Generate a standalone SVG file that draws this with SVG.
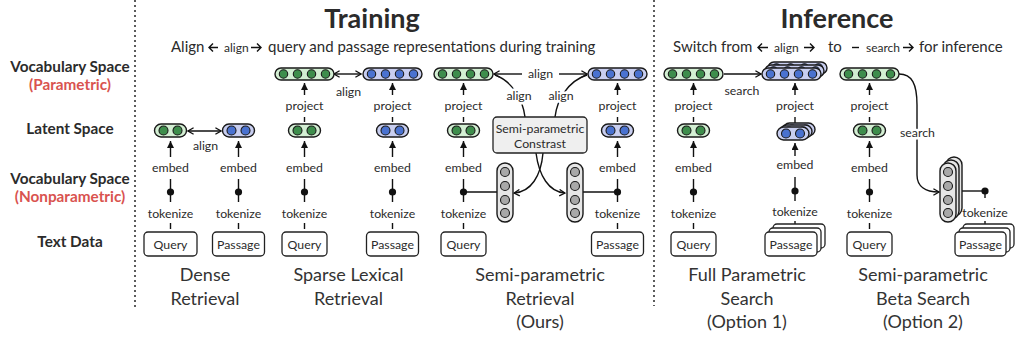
<svg xmlns="http://www.w3.org/2000/svg" xmlns:xlink="http://www.w3.org/1999/xlink" width="1017" height="339" viewBox="0 0 1017 339">
<style>
text{font-family:Lato,"Noto Sans","Liberation Sans",sans-serif;fill:#2b2b2b}
.title{font-size:27px;font-weight:bold;text-anchor:middle}
.sub{font-size:15px}
.sm{font-size:12px}
.lab{font-size:12.3px;text-anchor:middle}
.side{font-size:15.3px;font-weight:bold;text-anchor:middle}
.red{fill:#d9534f}
.cap{font-size:18px;text-anchor:middle;fill:#333}
.halo{paint-order:stroke;stroke:#fff;stroke-width:5px;stroke-linejoin:round}
.ln{stroke:#111;stroke-width:1.4;fill:none}
.box{fill:#fff;stroke:#222;stroke-width:1.3}
.gp{fill:#d3efd3;stroke:#1a1a1a;stroke-width:1.4}
.gc{fill:#3e8e4c;stroke:#1a1a1a;stroke-width:1.1}
.bp{fill:#c8cef0;stroke:#1a1a1a;stroke-width:1.4}
.bc{fill:#4a72d0;stroke:#1a1a1a;stroke-width:1.1}
.cp{fill:#e6e6e6;stroke:#1a1a1a;stroke-width:1.4}
.cc{fill:#a8a8a8;stroke:#1a1a1a;stroke-width:1.1}
.dot{fill:#111}
.sep{stroke:#333;stroke-width:1.6;stroke-dasharray:2 3}
</style>
<defs>
<marker id="chev" viewBox="0 0 10 10" refX="9" refY="5" markerWidth="8" markerHeight="8" markerUnits="userSpaceOnUse" orient="auto-start-reverse">
<path d="M2,1 L9,5 L2,9" fill="none" stroke="#111" stroke-width="1.6"/>
</marker>
<marker id="tri" viewBox="0 0 10 10" refX="10" refY="5" markerWidth="7" markerHeight="7" markerUnits="userSpaceOnUse" orient="auto">
<path d="M0,0 L10,5 L0,10 z" fill="#111"/>
</marker>
<g id="vg"><rect width="59" height="12" rx="6" class="gp"/><circle cx="8.5" cy="6" r="4.2" class="gc"/><circle cx="22.5" cy="6" r="4.2" class="gc"/><circle cx="36.5" cy="6" r="4.2" class="gc"/><circle cx="50.5" cy="6" r="4.2" class="gc"/></g>
<g id="vb"><rect width="59" height="12" rx="6" class="bp"/><circle cx="8.5" cy="6" r="4.2" class="bc"/><circle cx="22.5" cy="6" r="4.2" class="bc"/><circle cx="36.5" cy="6" r="4.2" class="bc"/><circle cx="50.5" cy="6" r="4.2" class="bc"/></g>
<g id="lg"><rect width="32" height="13" rx="6.5" class="gp"/><circle cx="9" cy="6.5" r="4.5" class="gc"/><circle cx="23" cy="6.5" r="4.5" class="gc"/></g>
<g id="lb"><rect width="32" height="13" rx="6.5" class="bp"/><circle cx="9" cy="6.5" r="4.5" class="bc"/><circle cx="23" cy="6.5" r="4.5" class="bc"/></g>
<g id="col"><rect width="16" height="59" rx="8" class="cp"/><circle cx="8" cy="9" r="4.5" class="cc"/><circle cx="8" cy="23" r="4.5" class="cc"/><circle cx="8" cy="37" r="4.5" class="cc"/><circle cx="8" cy="50" r="4.5" class="cc"/></g>
</defs>
<rect width="1017" height="339" fill="#fff"/>

<g id="separators">
<line x1="135" y1="0" x2="135" y2="310" class="sep"/>
<line x1="654" y1="0" x2="654" y2="306" class="sep"/>
</g>

<g id="row-labels">
<text x="70" y="72" class="side">Vocabulary Space</text>
<text x="70" y="90" class="side red">(Parametric)</text>
<text x="70" y="134" class="side">Latent Space</text>
<text x="70" y="184" class="side">Vocabulary Space</text>
<text x="70" y="202" class="side red">(Nonparametric)</text>
<text x="70" y="247" class="side">Text Data</text>
</g>

<g id="headers">
<text x="372" y="28" class="title">Training</text>
<text x="837" y="28" class="title">Inference</text>
<text x="171" y="52" class="sub">Align</text>
<text x="224" y="52" class="sm">align</text>
<text x="268" y="52" class="sub">query and passage representations during training</text>
<text x="673" y="52" class="sub">Switch from</text>
<text x="774" y="52" class="sm">align</text>
<text x="828" y="52" class="sub">to</text>
<text x="866" y="52" class="sm">search</text>
<text x="919" y="52" class="sub">for inference</text>
<path d="M218,47.5 H209 M213,43.5 L209,47.5 L213,51.5" class="ln" stroke-width="1.6"/>
<path d="M251,47.5 H261 M257,43.5 L261,47.5 L257,51.5" class="ln" stroke-width="1.6"/>
<path d="M768,47.5 H758 M762,43.5 L758,47.5 L762,51.5" class="ln" stroke-width="1.6"/>
<path d="M804,47.5 H814 M810,43.5 L814,47.5 L810,51.5" class="ln" stroke-width="1.6"/>
<path d="M852,47.5 H859" class="ln" stroke-width="1.6"/>
<path d="M903,47.5 H913 M909,43.5 L913,47.5 L909,51.5" class="ln" stroke-width="1.6"/>
</g>

<g id="captions">
<text x="205" y="281" class="cap">Dense</text>
<text x="205" y="305" class="cap">Retrieval</text>
<text x="348.5" y="281" class="cap">Sparse Lexical</text>
<text x="348.5" y="305" class="cap">Retrieval</text>
<text x="540" y="281" class="cap">Semi-parametric</text>
<text x="540" y="305" class="cap">Retrieval</text>
<text x="540" y="328" class="cap">(Ours)</text>
<text x="747" y="281" class="cap">Full Parametric</text>
<text x="747" y="305" class="cap">Search</text>
<text x="747" y="328" class="cap">(Option 1)</text>
<text x="923" y="281" class="cap">Semi-parametric</text>
<text x="923" y="305" class="cap">Beta Search</text>
<text x="923" y="328" class="cap">(Option 2)</text>
</g>

<g id="connectors">
<line x1="170.5" y1="157" x2="170.5" y2="141" class="ln" marker-end="url(#tri)"/>
<line x1="238.5" y1="157" x2="238.5" y2="141" class="ln" marker-end="url(#tri)"/>
<line x1="188" y1="131" x2="221" y2="131" class="ln" marker-start="url(#chev)" marker-end="url(#chev)"/>
<line x1="304.5" y1="95" x2="304.5" y2="83" class="ln" marker-end="url(#tri)"/>
<line x1="392.5" y1="95" x2="392.5" y2="83" class="ln" marker-end="url(#tri)"/>
<line x1="304.5" y1="157" x2="304.5" y2="141" class="ln" marker-end="url(#tri)"/>
<line x1="392.5" y1="157" x2="392.5" y2="141" class="ln" marker-end="url(#tri)"/>
<line x1="334" y1="74" x2="361" y2="74" class="ln" marker-start="url(#chev)" marker-end="url(#chev)"/>
<line x1="463.5" y1="95" x2="463.5" y2="83" class="ln" marker-end="url(#tri)"/>
<line x1="617.5" y1="95" x2="617.5" y2="83" class="ln" marker-end="url(#tri)"/>
<line x1="463.5" y1="157" x2="463.5" y2="141" class="ln" marker-end="url(#tri)"/>
<line x1="617.5" y1="157" x2="617.5" y2="141" class="ln" marker-end="url(#tri)"/>
<line x1="522" y1="74" x2="494" y2="74" class="ln" marker-end="url(#chev)"/>
<line x1="559" y1="74" x2="587" y2="74" class="ln" marker-end="url(#chev)"/>
<path d="M525,117 C523,100 512,81 495,75" class="ln"/>
<path d="M555,117 C557,100 568,81 587,75" class="ln"/>
<path d="M543,153 C541,176 531,192 514,193" class="ln" marker-end="url(#chev)"/>
<path d="M536,153 C539,176 549,192 565,193" class="ln" marker-end="url(#chev)"/>
<line x1="463.5" y1="192" x2="497" y2="192" class="ln"/>
<line x1="583" y1="192" x2="617.5" y2="192" class="ln"/>
<line x1="693.5" y1="95" x2="693.5" y2="83" class="ln" marker-end="url(#tri)"/>
<line x1="795" y1="95" x2="795" y2="83" class="ln" marker-end="url(#tri)"/>
<line x1="693.5" y1="157" x2="693.5" y2="141" class="ln" marker-end="url(#tri)"/>
<line x1="795" y1="156" x2="795" y2="143" class="ln" marker-end="url(#tri)"/>
<line x1="724" y1="74" x2="761" y2="74" class="ln" marker-end="url(#chev)"/>
<line x1="869.5" y1="95" x2="869.5" y2="83" class="ln" marker-end="url(#tri)"/>
<line x1="869.5" y1="157" x2="869.5" y2="141" class="ln" marker-end="url(#tri)"/>
<path d="M899,74 C912,74 917,84 917,105 L917,175 C917,186 925,192 939,192" class="ln" marker-end="url(#chev)"/>
<line x1="955" y1="191" x2="985" y2="191" class="ln"/>
<path d="M304.5,117 V122 M392.5,117 V122 M463.5,117 V122 M617.5,117 V122 M693.5,117 V122 M795,117 V124 M869.5,117 V122" class="ln"/>
<path d="M170.5,179 V202 M238.5,179 V202 M304.5,179 V202 M392.5,179 V202 M463.5,179 V202 M617.5,179 V202 M693.5,179 V202 M795,177 V201 M869.5,179 V202 M985,191 V198" class="ln"/>
<path d="M170.5,223 V229 M238.5,223 V229 M304.5,223 V229 M392.5,223 V229 M463.5,223 V229 M617.5,223 V229 M693.5,223 V229 M795,221 V227 M869.5,223 V229 M985,221 V227" class="ln"/>
<g class="dot">
<circle cx="170.5" cy="192" r="3.6"/><circle cx="238.5" cy="192" r="3.6"/>
<circle cx="304.5" cy="192" r="3.6"/><circle cx="392.5" cy="192" r="3.6"/>
<circle cx="463.5" cy="192" r="3.6"/><circle cx="617.5" cy="192" r="3.6"/>
<circle cx="693.5" cy="192" r="3.6"/><circle cx="795" cy="191" r="3.6"/>
<circle cx="869.5" cy="192" r="3.6"/><circle cx="985" cy="191" r="3.6"/>
</g>
</g>

<g id="edge-labels">
<text x="205.5" y="150" class="lab">align</text>
<text x="348.5" y="96" class="lab">align</text>
<text x="540.5" y="78" class="lab">align</text>
<text x="519" y="100" class="lab halo">align</text>
<text x="561" y="100" class="lab halo">align</text>
<text x="742" y="95" class="lab">search</text>
<text x="917.5" y="137" class="lab halo">search</text>
</g>

<g id="step-labels">
<text x="170.5" y="172" class="lab">embed</text><text x="238.5" y="172" class="lab">embed</text>
<text x="170.5" y="218" class="lab">tokenize</text><text x="238.5" y="218" class="lab">tokenize</text>
<text x="304.5" y="110" class="lab">project</text><text x="392.5" y="110" class="lab">project</text>
<text x="304.5" y="172" class="lab">embed</text><text x="392.5" y="172" class="lab">embed</text>
<text x="304.5" y="218" class="lab">tokenize</text><text x="392.5" y="218" class="lab">tokenize</text>
<text x="463.5" y="110" class="lab">project</text><text x="617.5" y="110" class="lab">project</text>
<text x="463.5" y="172" class="lab">embed</text><text x="617.5" y="172" class="lab">embed</text>
<text x="463.5" y="218" class="lab">tokenize</text><text x="617.5" y="218" class="lab">tokenize</text>
<text x="693.5" y="110" class="lab">project</text><text x="795" y="110" class="lab">project</text>
<text x="693.5" y="172" class="lab">embed</text><text x="795" y="169" class="lab">embed</text>
<text x="693.5" y="218" class="lab">tokenize</text><text x="795" y="216" class="lab">tokenize</text>
<text x="869.5" y="110" class="lab">project</text>
<text x="869.5" y="172" class="lab">embed</text>
<text x="869.5" y="218" class="lab">tokenize</text>
<text x="985" y="217" class="lab">tokenize</text>
</g>

<g id="dense-query"><rect x="144" y="232" width="53" height="24" rx="4" class="box"/><text x="170.5" y="249" class="lab" font-size="12.8">Query</text></g>
<g id="dense-passage"><rect x="212.5" y="232" width="52" height="24" rx="4" class="box"/><text x="238.5" y="249" class="lab" font-size="12.8">Passage</text></g>
<g id="dense-q-latent"><use xlink:href="#lg" x="154.5" y="124"/></g>
<g id="dense-p-latent"><use xlink:href="#lb" x="222.5" y="124"/></g>

<g id="sparse-query"><rect x="282" y="232" width="45" height="24" rx="4" class="box"/><text x="304.5" y="249" class="lab" font-size="12.8">Query</text></g>
<g id="sparse-passage"><rect x="366.5" y="232" width="52" height="24" rx="4" class="box"/><text x="392.5" y="249" class="lab" font-size="12.8">Passage</text></g>
<g id="sparse-q-latent"><use xlink:href="#lg" x="288.5" y="124"/></g>
<g id="sparse-p-latent"><use xlink:href="#lb" x="376.5" y="124"/></g>
<g id="sparse-q-vocab"><use xlink:href="#vg" x="275" y="68"/></g>
<g id="sparse-p-vocab"><use xlink:href="#vb" x="363" y="68"/></g>

<g id="semi-query"><rect x="441" y="232" width="45" height="24" rx="4" class="box"/><text x="463.5" y="249" class="lab" font-size="12.8">Query</text></g>
<g id="semi-passage"><rect x="591.5" y="232" width="52" height="24" rx="4" class="box"/><text x="617.5" y="249" class="lab" font-size="12.8">Passage</text></g>
<g id="semi-q-latent"><use xlink:href="#lg" x="447.5" y="124"/></g>
<g id="semi-p-latent"><use xlink:href="#lb" x="601.5" y="124"/></g>
<g id="semi-q-vocab"><use xlink:href="#vg" x="434" y="68"/></g>
<g id="semi-p-vocab"><use xlink:href="#vb" x="588" y="68"/></g>
<g id="semi-q-nonparam"><use xlink:href="#col" x="497" y="163"/></g>
<g id="semi-p-nonparam"><use xlink:href="#col" x="567" y="163"/></g>
<g id="semi-contrast"><rect x="493" y="117" width="94" height="36" rx="4" fill="#efefef" stroke="#222" stroke-width="1.3"/><text x="540" y="133" class="lab">Semi-parametric</text><text x="540" y="148" class="lab">Constrast</text></g>

<g id="opt1-query"><rect x="671" y="232" width="45" height="24" rx="4" class="box"/><text x="693.5" y="249" class="lab" font-size="12.8">Query</text></g>
<g id="opt1-passages"><rect x="773" y="224" width="52" height="24" rx="4" class="box"/><rect x="769" y="228" width="52" height="24" rx="4" class="box"/><rect x="765" y="232" width="52" height="24" rx="4" class="box"/><text x="791" y="249" class="lab" font-size="12.8">Passage</text></g>
<g id="opt1-q-latent"><use xlink:href="#lg" x="677.5" y="124"/></g>
<g id="opt1-p-latent"><use xlink:href="#lb" x="783" y="123"/><use xlink:href="#lb" x="780" y="125"/><use xlink:href="#lb" x="777" y="127"/></g>
<g id="opt1-q-vocab"><use xlink:href="#vg" x="664" y="68"/></g>
<g id="opt1-p-vocab"><use xlink:href="#vb" x="768" y="62"/><use xlink:href="#vb" x="765" y="65"/><use xlink:href="#vb" x="762" y="68"/></g>

<g id="opt2-query"><rect x="847" y="232" width="45" height="24" rx="4" class="box"/><text x="869.5" y="249" class="lab" font-size="12.8">Query</text></g>
<g id="opt2-passages"><rect x="963" y="224" width="51" height="24" rx="4" class="box"/><rect x="959" y="228" width="51" height="24" rx="4" class="box"/><rect x="955" y="232" width="51" height="24" rx="4" class="box"/><text x="980.5" y="249" class="lab" font-size="12.8">Passage</text></g>
<g id="opt2-q-latent"><use xlink:href="#lg" x="853.5" y="124"/></g>
<g id="opt2-q-vocab"><use xlink:href="#vg" x="840" y="68"/></g>
<g id="opt2-p-nonparam"><use xlink:href="#col" x="946" y="157"/><use xlink:href="#col" x="943" y="160"/><use xlink:href="#col" x="940" y="163"/></g>
</svg>
